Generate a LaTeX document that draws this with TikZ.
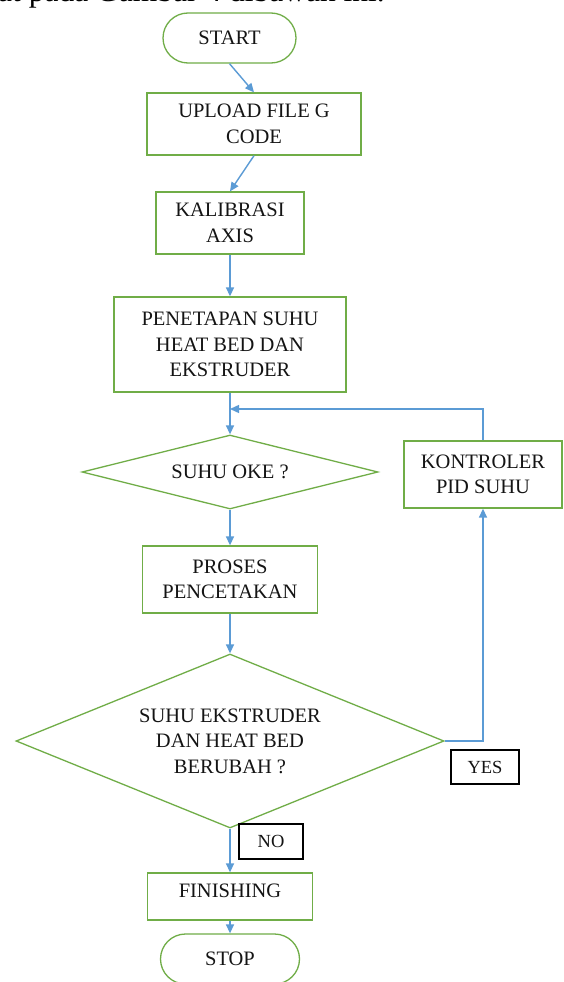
\documentclass[tikz,border=0pt]{standalone}
\usepackage{fontspec}
\setmainfont{Liberation Serif}
\usetikzlibrary{shapes.geometric,shapes.misc,arrows.meta}
\definecolor{fgreen}{HTML}{70AD47}
\definecolor{fblue}{HTML}{5B9BD5}
\definecolor{ftext}{HTML}{141414}
\tikzset{
  x=1pt, y=-1pt,
  every node/.style={text=ftext},
  nodefont/.style={font=\fontsize{20.5}{25.5}\selectfont},
  procbox/.style={draw=fgreen, line width=1.3pt, rectangle, inner sep=0pt, align=center, nodefont},
  termbox/.style={draw=fgreen, line width=1.3pt, rounded rectangle, inner sep=0pt, align=center, nodefont},
  decbox/.style={draw=fgreen, line width=1.3pt, diamond, inner sep=0pt, align=center, nodefont},
  lblbox/.style={draw=black, line width=1.4pt, rectangle, inner sep=0pt, font=\fontsize{18.5}{22}\selectfont},
  arr/.style={draw=fblue, line width=1.4pt, -{Triangle[length=9pt,width=8pt]}},
}
\begin{document}
\begin{tikzpicture}
\clip (0,0) rectangle (563,982);
\useasboundingbox (0,0) rectangle (563,982);
\fill[white] (0,0) rectangle (563,982);

\node[anchor=base west, inner sep=0pt, font=\fontsize{31.5}{36}\selectfont, text=black] (caption) at (-2,1.5) {at pada Gambar 4 dibawah ini.};

\node[termbox, minimum width=133pt, minimum height=50pt] (start) at (229.5,38) {START};
\node[procbox, minimum width=214pt, minimum height=62pt] (upload) at (254,124) {UPLOAD FILE G\\CODE};
\node[procbox, minimum width=148pt, minimum height=62pt] (kalib) at (230,223) {KALIBRASI\\AXIS};
\node[procbox, minimum width=232pt, minimum height=95pt] (penet) at (230,344.5) {PENETAPAN SUHU\\HEAT BED DAN\\EKSTRUDER};
\node[decbox, aspect=4, minimum width=296pt, minimum height=74pt] (oke) at (230,472) {SUHU OKE ?};
\node[procbox, minimum width=158pt, minimum height=67pt] (kontrol) at (483,474.5) {KONTROLER\\PID SUHU};
\node[procbox, minimum width=175pt, minimum height=67pt] (proses) at (230,579.5) {PROSES\\PENCETAKAN};
\node[decbox, aspect=2.46, minimum width=428pt, minimum height=174pt] (big) at (230,741) {SUHU EKSTRUDER\\DAN HEAT BED\\BERUBAH ?};
\node[lblbox, minimum width=68pt, minimum height=34pt] (yes) at (485,767) {YES};
\node[lblbox, minimum width=64pt, minimum height=35pt] (no) at (271,841.5) {NO};
\node[procbox, minimum width=165pt, minimum height=47pt, text height=13.5pt, text depth=11pt] (fin) at (230,896.5) {FINISHING};
\node[termbox, minimum width=139pt, minimum height=50pt] (stop) at (230,959) {STOP};

\coordinate (join) at (230,409);

\draw[arr] (start.south) -- (upload.north);
\draw[arr] (upload.south) -- (kalib.north);
\draw[arr] (kalib.south) -- (penet.north);
\draw[arr] (penet.south) -- (oke.north);
\draw[arr] (kontrol.north) |- (join);
\draw[arr] (oke.south) -- (proses.north);
\draw[arr] (proses.south) -- (big.north);
\draw[arr] (big.east) -| (kontrol.south);
\draw[arr] (big.south) -- (fin.north);
\draw[arr] (fin.south) -- (stop.north);
\end{tikzpicture}
\end{document}
